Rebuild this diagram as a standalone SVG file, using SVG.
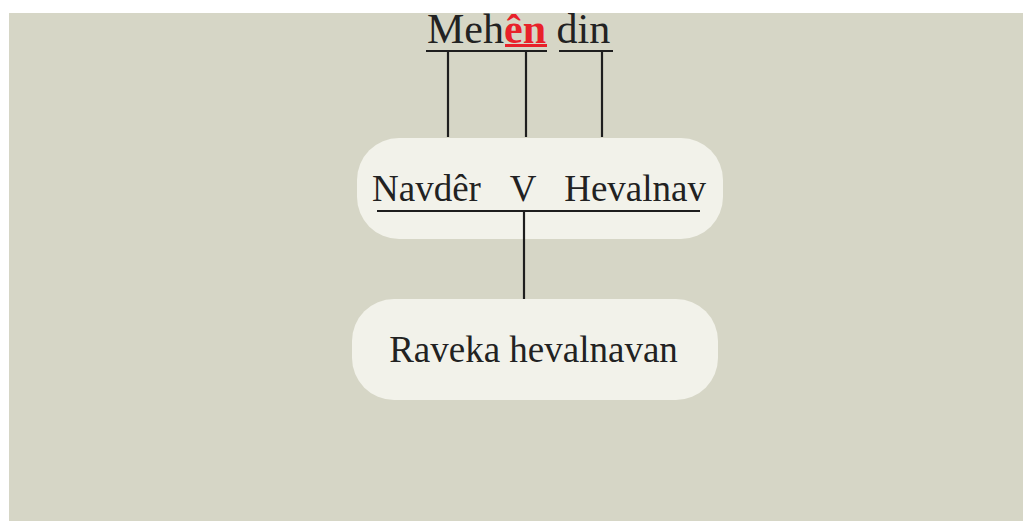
<svg xmlns="http://www.w3.org/2000/svg" width="1023" height="521" viewBox="0 0 1023 521">
<style>
.t{font-family:"Liberation Serif","Times New Roman",serif;fill:#222;}
.ln{stroke:#1e1e1e;stroke-width:2.2;fill:none;}
.node{fill:#f2f2ea;}
</style>
<rect x="0" y="0" width="1023" height="521" fill="#ffffff"/>
<rect x="9" y="13" width="1014" height="508" fill="#d6d6c6"/>
<g id="top">
<text class="t" x="427" y="43" font-size="42">Meh<tspan fill="#e8212a" font-weight="bold">ên</tspan> din</text>
<line x1="505" y1="45.5" x2="547" y2="45.5" stroke="#e8212a" stroke-width="3"/>
</g>
<g id="node-1">
<rect class="node" x="357" y="138" width="366" height="101" rx="42"/>
<text class="t" x="372" y="201" font-size="37">Navdêr</text>
<text class="t" x="523" y="201" font-size="37" text-anchor="middle">V</text>
<text class="t" x="706" y="201" font-size="37" text-anchor="end">Hevalnav</text>
</g>
<g id="node-2">
<rect class="node" x="352" y="299" width="366" height="101" rx="42"/>
<text class="t" x="533.5" y="362" font-size="37" text-anchor="middle">Raveka hevalnavan</text>
</g>
<g id="connectors">
<line class="ln" x1="426" y1="51" x2="547" y2="51"/>
<line class="ln" x1="559" y1="51" x2="613" y2="51"/>
<line class="ln" x1="448" y1="51" x2="448" y2="137"/>
<line class="ln" x1="526" y1="51" x2="526" y2="137"/>
<line class="ln" x1="602" y1="51" x2="602" y2="137"/>
<line class="ln" x1="377" y1="211" x2="700" y2="211"/>
<line class="ln" x1="524" y1="211" x2="524" y2="299"/>
</g>
</svg>
